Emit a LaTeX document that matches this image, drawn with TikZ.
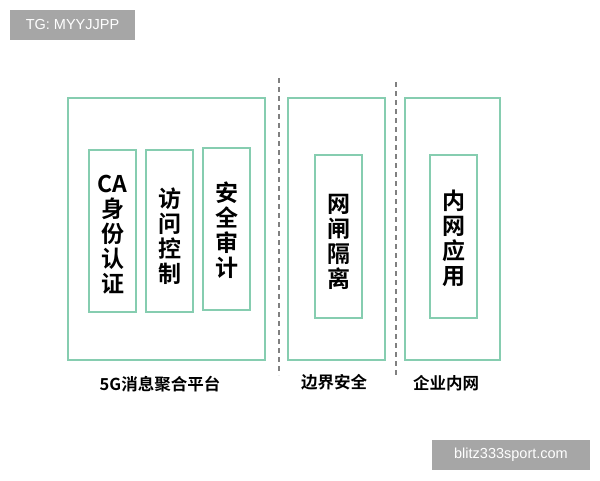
\documentclass[tikz,border=0pt]{standalone}
\usepackage{fontspec}
\newfontfamily\cjk{Noto Sans CJK SC Bold}
\setmainfont{Liberation Sans}
\definecolor{gb}{HTML}{86CDB0}
\definecolor{lg}{HTML}{A6A6A6}
\begin{document}
\begin{tikzpicture}[x=1pt,y=-1pt,
 outer/.style={draw=gb,line width=1.3pt},
 inner/.style={draw=gb,line width=1.3pt,align=center,font=\cjk\fontsize{23}{25}\selectfont},
 captext/.style={font=\cjk\fontsize{16.5}{18}\selectfont},
 tag/.style={fill=lg,text=white,font=\fontsize{14.5}{16}\selectfont,inner sep=0pt},
 sep/.style={draw=gray,dash pattern=on 5pt off 4pt,line width=1.2pt}]
\useasboundingbox (0,0) rectangle (600,480);
\node[tag,minimum width=125,minimum height=30] (t1) at (72.5,25) {TG: MYYJJPP};
\node[tag,minimum width=158,minimum height=30] (t2) at (511,455) {blitz333sport.com};
\draw[outer] (68,98) rectangle (265,360);
\draw[outer] (288,98) rectangle (385,360);
\draw[outer] (405,98) rectangle (500,360);
\draw[inner] (89,150) rectangle (136,312);
\draw[inner] (146,150) rectangle (193,312);
\draw[inner] (203,148) rectangle (250,310);
\draw[inner] (315,155) rectangle (362,318);
\draw[inner] (430,155) rectangle (477,318);
\node[inner,draw=none] (a) at (112.5,235) {CA\\身\\份\\认\\证};
\node[inner,draw=none] (b) at (169.5,236) {访\\问\\控\\制};
\node[inner,draw=none] (c) at (226.5,230) {安\\全\\审\\计};
\node[inner,draw=none] (d) at (338.5,242) {网\\闸\\隔\\离};
\node[inner,draw=none] (e) at (453.5,238) {内\\网\\应\\用};
\coordinate (s1a) at (279,78); \coordinate (s1b) at (279,375);
\coordinate (s2a) at (396,82); \coordinate (s2b) at (396,375);
\draw[sep] (s1a) -- (s1b);
\draw[sep] (s2a) -- (s2b);
\node[captext] (l1) at (160,384) {5G消息聚合平台};
\node[captext] (l2) at (334,382) {边界安全};
\node[captext] (l3) at (446,383) {企业内网};
\end{tikzpicture}
\end{document}
